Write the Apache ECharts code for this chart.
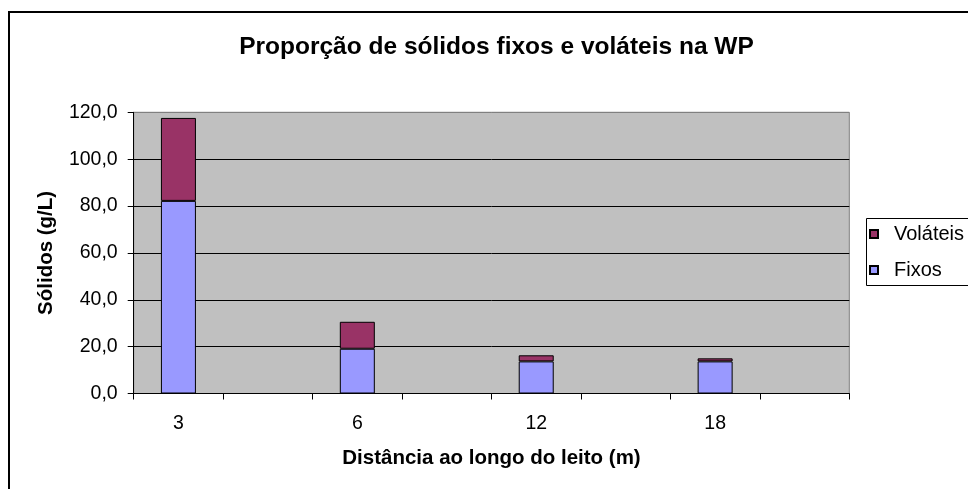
<!DOCTYPE html>
<html>
<head>
<meta charset="utf-8">
<script src="https://cdn.jsdelivr.net/npm/echarts@6/dist/echarts.min.js"></script>
<style>
  html, body { margin: 0; padding: 0; background: #fff; }
  #chart { width: 968px; height: 489px; }
</style>
</head>
<body>
<div id="chart"></div>
<script>
// Distance along the bed (m) and solids composition (g/L)
const distances = ['3', '6', '12', '18'];
const fixos = [82.2, 19.1, 13.7, 13.7];
const volateis = [35.4, 11.5, 2.6, 1.3];
const yTicks = { min: 0, max: 120, interval: 20 };

// Each distance occupies a slot followed by an empty slot on the category axis
const axisCategories = distances.flatMap(d => [d, '']);
const fixosData = fixos.flatMap(v => [v, null]);
const volateisData = volateis.flatMap(v => [v, null]);

const FONT = '"Liberation Sans", Arial, sans-serif';
const chart = echarts.init(document.getElementById('chart'));

chart.setOption({
  backgroundColor: '#ffffff',
  animation: false,
  title: {
    text: 'Proporção de sólidos fixos e voláteis na WP',
    left: 491.5,
    textAlign: 'center',
    top: 30,
    textStyle: { fontFamily: FONT, fontSize: 24.5, fontWeight: 'bold', color: '#000' }
  },
  graphic: [
    {
      // outer chart frame
      type: 'rect',
      shape: { x: 9, y: 12, width: 1000, height: 1000 },
      style: { fill: 'none', stroke: '#000', lineWidth: 2 },
      silent: true
    },
    {
      // legend frame, running past the right edge of the canvas
      type: 'rect',
      shape: { x: 866.5, y: 218.5, width: 200, height: 67 },
      style: { fill: '#fff', stroke: '#000', lineWidth: 1 },
      silent: true
    }
  ],
  legend: {
    orient: 'vertical',
    left: 866,
    top: 218,
    padding: [6, 0, 5, 3],
    itemGap: 16,
    itemWidth: 8,
    itemHeight: 8,
    borderWidth: 0,
    data: [
      { name: 'Voláteis', icon: 'rect' },
      { name: 'Fixos', icon: 'rect' }
    ],
    textStyle: { fontFamily: FONT, fontSize: 20, color: '#000', padding: [0, 0, 0, 11] }
  },
  grid: {
    left: 133.7,
    right: 118.7,
    top: 112.3,
    bottom: 95.5,
    show: true,
    backgroundColor: '#C0C0C0',
    borderColor: '#808080',
    borderWidth: 1
  },
  xAxis: {
    type: 'category',
    data: axisCategories,
    boundaryGap: true,
    name: 'Distância ao longo do leito (m)',
    nameLocation: 'middle',
    nameGap: 54,
    nameTextStyle: { fontFamily: FONT, fontSize: 20.5, fontWeight: 'bold', color: '#000' },
    axisLine: { lineStyle: { color: '#000', width: 1 } },
    axisTick: { show: true, length: 6, interval: 0, lineStyle: { color: '#000' } },
    axisLabel: { interval: 0, margin: 20, fontFamily: FONT, fontSize: 19.5, color: '#000' },
    splitLine: { show: false }
  },
  yAxis: {
    type: 'value',
    min: yTicks.min,
    max: yTicks.max,
    interval: yTicks.interval,
    name: 'Sólidos (g/L)',
    nameLocation: 'middle',
    nameGap: 77,
    nameTextStyle: { fontFamily: FONT, fontSize: 20.5, fontWeight: 'bold', color: '#000' },
    axisLine: { show: true, lineStyle: { color: '#000', width: 1 } },
    axisTick: { show: true, length: 6, lineStyle: { color: '#000' } },
    axisLabel: {
      margin: 16,
      fontFamily: FONT,
      fontSize: 19.5,
      color: '#000',
      formatter: v => v.toFixed(1).replace('.', ',')
    },
    splitLine: {
      show: true,
      lineStyle: { color: ['#000', '#000', '#000', '#000', '#000', '#000', '#808080'], width: 1 }
    }
  },
  series: [
    {
      name: 'Fixos',
      type: 'bar',
      stack: 'solidos',
      barWidth: 35,
      data: fixosData,
      itemStyle: { color: '#9999FF', borderColor: '#000', borderWidth: 1 }
    },
    {
      name: 'Voláteis',
      type: 'bar',
      stack: 'solidos',
      barWidth: 35,
      data: volateisData,
      itemStyle: { color: '#993366', borderColor: '#000', borderWidth: 1 }
    }
  ]
});
</script>
</body>
</html>
